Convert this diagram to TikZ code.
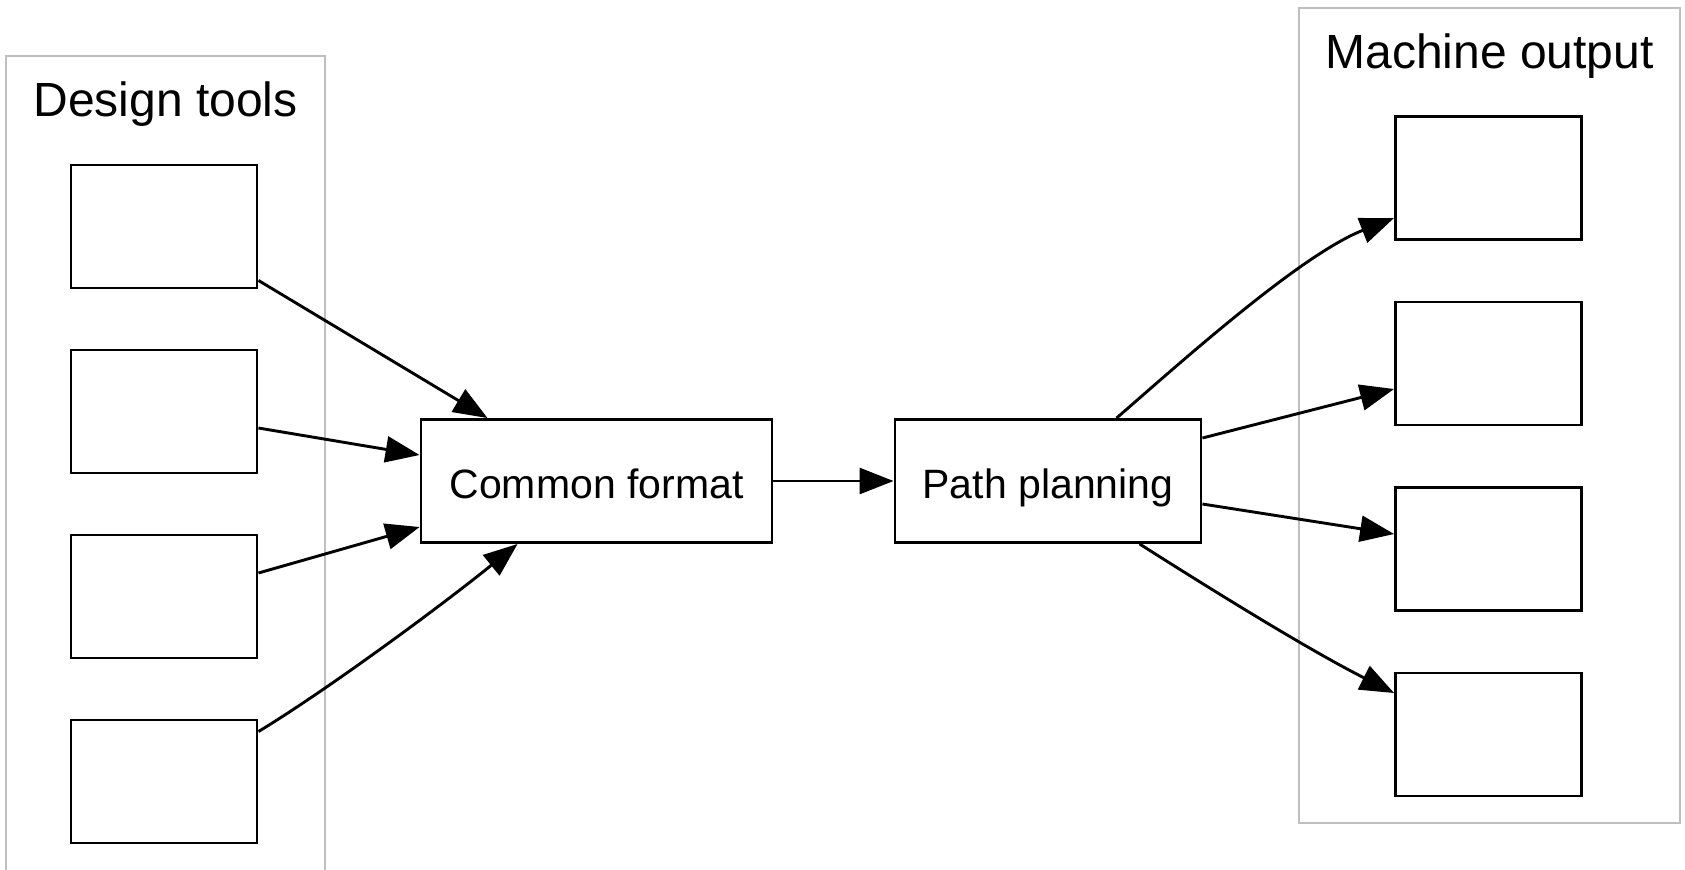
\documentclass[tikz,border=0pt]{standalone}
\usepackage{fontspec}
\setmainfont{Liberation Sans}
\usetikzlibrary{arrows.meta,calc}

\begin{document}
\begin{tikzpicture}[x=0.5pt,y=-0.5pt,
  box/.style={draw=black, line width=1.45pt, minimum width=93pt, minimum height=61.5pt,
    inner sep=0pt, fill=white},
  proc/.style={box, font=\fontsize{20.5}{24}\selectfont, text height=17pt, text depth=0pt},
  cluster/.style={draw=black!25, line width=1.2pt, inner sep=0pt},
  ctitle/.style={font=\fontsize{24}{28}\selectfont, anchor=base, inner sep=0pt},
  edge/.style={line width=1.45pt, -{Triangle[length=17pt,width=13pt]}},
]
% page frame
\path[use as bounding box, clip] (0,0) rectangle (1685,869);
\fill[white] (0,0) rectangle (1685,869);

% clusters
\node[cluster, minimum width=159.5pt, minimum height=407.5pt] (dt) at (165.5,463.5) {};
\node[ctitle] (dttitle) at (165.5,116.7) {Design tools};
\node[cluster, minimum width=190.5pt, minimum height=407.5pt] (mo) at (1489.5,415.5) {};
\node[ctitle] (motitle) at (1489.5,68) {Machine output};

% input boxes
\node[box] (l1) at (164,226.5) {};
\node[box] (l2) at (164,411.5) {};
\node[box] (l3) at (164,596.5) {};
\node[box] (l4) at (164,781.5) {};

% output boxes
\node[box] (r1) at (1488.5,178) {};
\node[box] (r2) at (1488.5,363.5) {};
\node[box] (r3) at (1488.5,549) {};
\node[box] (r4) at (1488.5,734.5) {};

% processing steps
\node[proc, minimum width=175.5pt] (cf) at (596.5,481) {Common format};
\node[proc, minimum width=153pt] (pp) at (1048,481) {Path planning};

% inputs to the common format
\draw[edge] ($(l1.south east)+(0,-9)$) -- ($(cf.north west)+(68,0)$);
\draw[edge] ($(l2.east)+(0,16.5)$) -- ($(cf.west)+(0,-26)$);
\draw[edge] ($(l3.east)+(0,-23.5)$) -- ($(cf.west)+(0,46)$);
\draw[edge] ($(l4.north east)+(0,13)$) .. controls (327,690) and (441,606) .. ($(cf.south west)+(98,0)$);

% main flow
\draw[edge] (cf.east) -- (pp.west);

% path planning to the machines
\draw[edge] ($(pp.north west)+(223,0)$) .. controls (1180,363) and (1300,255) .. ($(r1.west)+(0,40)$);
\draw[edge] ($(pp.east)+(0,-43)$) -- ($(r2.west)+(0,25.5)$);
\draw[edge] ($(pp.east)+(0,23)$) -- ($(r3.west)+(0,-15)$);
\draw[edge] ($(pp.south west)+(246,0)$) .. controls (1201,583) and (1305,648) .. ($(r4.west)+(0,-41.5)$);
\end{tikzpicture}
\end{document}
